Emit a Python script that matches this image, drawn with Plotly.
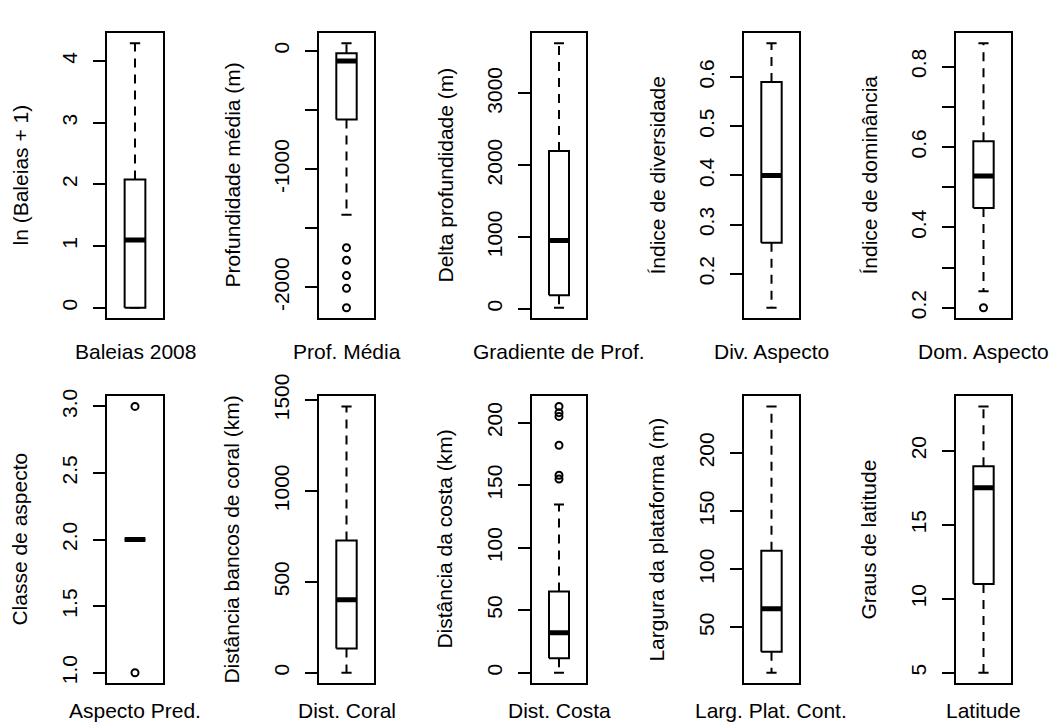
import plotly.graph_objects as go

# Panel labels
x_titles = ["Baleias 2008", "Prof. Média", "Gradiente de Prof.", "Div. Aspecto", "Dom. Aspecto",
            "Aspecto Pred.", "Dist. Coral", "Dist. Costa", "Larg. Plat. Cont.", "Latitude"]
y_titles = ["ln (Baleias + 1)", "Profundidade média (m)", "Delta profundidade (m)",
            "Índice de diversidade", "Índice de dominância",
            "Classe de aspecto", "Distância bancos de coral (km)", "Distância da costa (km)",
            "Largura da plataforma (m)", "Graus de latitude"]

# Five-number summaries per variable
whisker_low = [0, -1385, 15, 0.131, 0.241, 2, 0, 0, 11, 5]
box_low = [0, -580, 190, 0.263, 0.448, 2, 134, 11.6, 29, 11.0]
medians = [1.1, -85, 950, 0.40, 0.528, 2, 401, 32, 66, 17.5]
box_high = [2.08, -20, 2200, 0.59, 0.614, 2, 727, 65, 116, 18.95]
whisker_high = [4.29, 65, 3700, 0.669, 0.858, 2, 1465, 134.5, 240, 23.0]
outliers = [[], [-1664, -1770, -1900, -2008, -2172], [], [], [0.2],
            [1, 3], [], [213, 208, 205, 182, 158, 155], [], []]

# Y-axis ticks (blank text = tick without label)
tick_vals = [[0, 1, 2, 3, 4],
             [0, -500, -1000, -1500, -2000],
             [0, 1000, 2000, 3000],
             [0.2, 0.3, 0.4, 0.5, 0.6],
             [0.2, 0.3, 0.4, 0.5, 0.6, 0.7, 0.8],
             [1.0, 1.5, 2.0, 2.5, 3.0],
             [0, 500, 1000, 1500],
             [0, 50, 100, 150, 200],
             [50, 100, 150, 200],
             [5, 10, 15, 20]]
tick_text = [["0", "1", "2", "3", "4"],
             ["0", "", "-1000", "", "-2000"],
             ["0", "1000", "2000", "3000"],
             ["0.2", "0.3", "0.4", "0.5", "0.6"],
             ["0.2", "", "0.4", "", "0.6", "", "0.8"],
             ["1.0", "1.5", "2.0", "2.5", "3.0"],
             ["0", "500", "1000", "1500"],
             ["0", "50", "100", "150", "200"],
             ["50", "100", "150", "200"],
             ["5", "10", "15", "20"]]

W, H = 1055, 727
FONT = "Liberation Sans, Arial, Helvetica, sans-serif"
FS = 21
col_left = [107, 319, 532, 744, 956]
col_right = [163, 374, 586, 799, 1011]
row_top = [11, 386]
row_bot = [306, 683]
xtitle_y = [340, 711]

fig = go.Figure()
annotations = []
line = dict(color="black", width=2)

for i in range(10):
    r, c = divmod(i, 5)
    n = i + 1
    xa = "x" if n == 1 else f"x{n}"
    ya = "y" if n == 1 else f"y{n}"

    lo_w, q1, med, q3, hi_w = whisker_low[i], box_low[i], medians[i], box_high[i], whisker_high[i]
    out = outliers[i]

    # dashed whiskers
    fig.add_trace(go.Scatter(x=[1, 1, None, 1, 1], y=[q3, hi_w, None, q1, lo_w],
                             mode="lines", line=dict(color="black", width=2, dash="9px,7px"),
                             xaxis=xa, yaxis=ya, hoverinfo="skip", showlegend=False))
    # staples
    fig.add_trace(go.Scatter(x=[0.9, 1.1, None, 0.9, 1.1], y=[hi_w, hi_w, None, lo_w, lo_w],
                             mode="lines", line=line,
                             xaxis=xa, yaxis=ya, hoverinfo="skip", showlegend=False))
    # box
    fig.add_trace(go.Scatter(x=[0.8, 1.2, 1.2, 0.8, 0.8], y=[q1, q1, q3, q3, q1],
                             mode="lines", line=line, fill="toself", fillcolor="white",
                             xaxis=xa, yaxis=ya, hoverinfo="skip", showlegend=False))
    # median
    fig.add_trace(go.Scatter(x=[0.8, 1.2], y=[med, med], mode="lines",
                             line=dict(color="black", width=5),
                             xaxis=xa, yaxis=ya, hoverinfo="skip", showlegend=False))
    # outliers
    if out:
        fig.add_trace(go.Scatter(x=[1] * len(out), y=out, mode="markers",
                                 marker=dict(symbol="circle-open", size=7, color="black",
                                             line=dict(width=2, color="black")),
                                 xaxis=xa, yaxis=ya, hoverinfo="skip", showlegend=False))

    # data range extended by 4% on each side
    vals = [lo_w, hi_w] + out
    dmin, dmax = min(vals), max(vals)
    ext = 0.04 * (dmax - dmin)
    yrange = [dmin - ext, dmax + ext]

    xdom = [col_left[c] / W, col_right[c] / W]
    ydom = [1 - row_bot[r] / H, 1 - row_top[r] / H]

    fig.update_layout(**{
        ("xaxis" if n == 1 else f"xaxis{n}"): dict(
            domain=xdom, range=[0.46, 1.54], showticklabels=False, ticks="",
            showgrid=False, zeroline=False, showline=True, mirror=True,
            linecolor="black", linewidth=2, anchor=ya, fixedrange=True),
        ("yaxis" if n == 1 else f"yaxis{n}"): dict(
            domain=ydom, range=yrange, tickvals=tick_vals[i], ticktext=tick_text[i],
            tickangle=-90, ticks="outside", ticklen=12, tickwidth=2, tickcolor="black",
            ticklabelstandoff=8,
            tickfont=dict(family=FONT, size=FS, color="black"),
            showgrid=False, zeroline=False, showline=True, mirror=True,
            linecolor="black", linewidth=2, anchor=xa, fixedrange=True),
    })

    cx = (col_left[c] + col_right[c]) / 2
    cy = (row_top[r] + row_bot[r]) / 2
    annotations.append(dict(text=x_titles[i], x=cx / W, y=1 - xtitle_y[r] / H,
                            xref="paper", yref="paper", showarrow=False,
                            xanchor="center", yanchor="middle",
                            font=dict(family=FONT, size=FS, color="black")))
    annotations.append(dict(text=y_titles[i], x=(col_left[c] - 87) / W, y=1 - cy / H,
                            xref="paper", yref="paper", showarrow=False, textangle=-90,
                            xanchor="center", yanchor="middle",
                            font=dict(family=FONT, size=FS, color="black")))

fig.update_layout(width=W, height=H, margin=dict(l=0, r=0, t=0, b=0),
                  paper_bgcolor="white", plot_bgcolor="white",
                  annotations=annotations, showlegend=False)

fig.write_html("out.html")
